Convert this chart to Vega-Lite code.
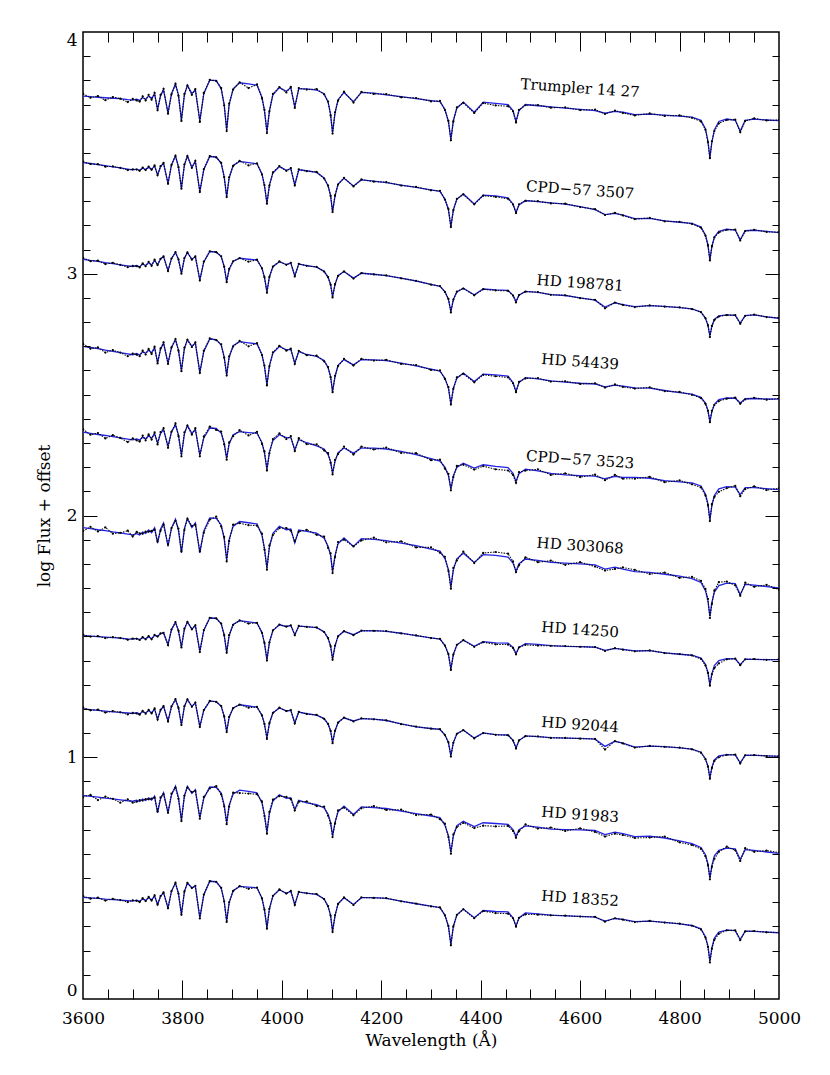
{
"$schema":"https://vega.github.io/schema/vega-lite/v6.json",
"width":696,"height":967,
"autosize":{"type":"none"},
"padding":{"left":83,"top":32,"right":51,"bottom":76},
"background":"#ffffff",
"config":{"view":{"stroke":"#000000","strokeWidth":1.5},"font":"DejaVu Serif"},
"datasets":{
"labels":[
{"name":"Trumpler 14 27","w":4600,"y":3.768},
{"name":"CPD−57 3507","w":4600,"y":3.347},
{"name":"HD 198781","w":4600,"y":2.962},
{"name":"HD 54439","w":4600,"y":2.636},
{"name":"CPD−57 3523","w":4600,"y":2.231},
{"name":"HD 303068","w":4600,"y":1.875},
{"name":"HD 14250","w":4600,"y":1.528},
{"name":"HD 92044","w":4600,"y":1.135},
{"name":"HD 91983","w":4600,"y":0.763},
{"name":"HD 18352","w":4600,"y":0.416}
],
"spec":[
{"s":0,"w":3600,"m":3.735,"o":3.745},{"s":0,"w":3615,"m":3.733,"o":3.728},{"s":0,"w":3630,"m":3.73,"o":3.735},{"s":0,"w":3645,"m":3.728,"o":3.718},{"s":0,"w":3660,"m":3.726,"o":3.731},{"s":0,"w":3675,"m":3.724,"o":3.724},{"s":0,"w":3690,"m":3.72,"o":3.71},{"s":0,"w":3700,"m":3.718,"o":3.723},{"s":0,"w":3708,"m":3.722,"o":3.717},{"s":0,"w":3714,"m":3.717,"o":3.712},{"s":0,"w":3720,"m":3.729,"o":3.734},{"s":0,"w":3726,"m":3.722,"o":3.717},{"s":0,"w":3732,"m":3.735,"o":3.74},{"s":0,"w":3738,"m":3.725,"o":3.72},{"s":0,"w":3744,"m":3.743,"o":3.748},{"s":0,"w":3750,"m":3.68,"o":3.676},{"s":0,"w":3756,"m":3.735,"o":3.74},{"s":0,"w":3762,"m":3.76,"o":3.765},{"s":0,"w":3771,"m":3.665,"o":3.662},{"s":0,"w":3778,"m":3.745,"o":3.742},{"s":0,"w":3786,"m":3.784,"o":3.786},{"s":0,"w":3792,"m":3.74,"o":3.736},{"s":0,"w":3798,"m":3.636,"o":3.632},{"s":0,"w":3804,"m":3.74,"o":3.744},{"s":0,"w":3810,"m":3.78,"o":3.778},{"s":0,"w":3819,"m":3.745,"o":3.74},{"s":0,"w":3826,"m":3.76,"o":3.764},{"s":0,"w":3835,"m":3.633,"o":3.628},{"s":0,"w":3843,"m":3.745,"o":3.748},{"s":0,"w":3855,"m":3.8,"o":3.802},{"s":0,"w":3868,"m":3.8,"o":3.797},{"s":0,"w":3878,"m":3.765,"o":3.768},{"s":0,"w":3884,"m":3.7,"o":3.697},{"s":0,"w":3889,"m":3.595,"o":3.59},{"s":0,"w":3894,"m":3.7,"o":3.704},{"s":0,"w":3902,"m":3.765,"o":3.762},{"s":0,"w":3915,"m":3.79,"o":3.792},{"s":0,"w":3933,"m":3.785,"o":3.768},{"s":0,"w":3950,"m":3.78,"o":3.783},{"s":0,"w":3960,"m":3.73,"o":3.726},{"s":0,"w":3965,"m":3.675,"o":3.678},{"s":0,"w":3970,"m":3.588,"o":3.582},{"s":0,"w":3975,"m":3.675,"o":3.672},{"s":0,"w":3982,"m":3.74,"o":3.744},{"s":0,"w":3995,"m":3.77,"o":3.772},{"s":0,"w":4009,"m":3.755,"o":3.75},{"s":0,"w":4018,"m":3.77,"o":3.773},{"s":0,"w":4026,"m":3.69,"o":3.686},{"s":0,"w":4034,"m":3.765,"o":3.768},{"s":0,"w":4050,"m":3.765,"o":3.762},{"s":0,"w":4070,"m":3.76,"o":3.764},{"s":0,"w":4085,"m":3.745,"o":3.742},{"s":0,"w":4093,"m":3.71,"o":3.712},{"s":0,"w":4098,"m":3.66,"o":3.655},{"s":0,"w":4102,"m":3.584,"o":3.58},{"s":0,"w":4107,"m":3.665,"o":3.668},{"s":0,"w":4113,"m":3.72,"o":3.716},{"s":0,"w":4125,"m":3.75,"o":3.753},{"s":0,"w":4144,"m":3.712,"o":3.708},{"s":0,"w":4160,"m":3.75,"o":3.752},{"s":0,"w":4185,"m":3.747,"o":3.744},{"s":0,"w":4210,"m":3.74,"o":3.743},{"s":0,"w":4240,"m":3.733,"o":3.73},{"s":0,"w":4270,"m":3.724,"o":3.727},{"s":0,"w":4300,"m":3.716,"o":3.713},{"s":0,"w":4318,"m":3.712,"o":3.715},{"s":0,"w":4328,"m":3.68,"o":3.677},{"s":0,"w":4335,"m":3.63,"o":3.632},{"s":0,"w":4340,"m":3.556,"o":3.552},{"s":0,"w":4345,"m":3.635,"o":3.63},{"s":0,"w":4352,"m":3.685,"o":3.688},{"s":0,"w":4365,"m":3.71,"o":3.707},{"s":0,"w":4387,"m":3.668,"o":3.665},{"s":0,"w":4405,"m":3.71,"o":3.706},{"s":0,"w":4430,"m":3.705,"o":3.696},{"s":0,"w":4455,"m":3.7,"o":3.693},{"s":0,"w":4465,"m":3.675,"o":3.672},{"s":0,"w":4471,"m":3.63,"o":3.626},{"s":0,"w":4477,"m":3.675,"o":3.678},{"s":0,"w":4490,"m":3.7,"o":3.697},{"s":0,"w":4515,"m":3.695,"o":3.698},{"s":0,"w":4541,"m":3.69,"o":3.687},{"s":0,"w":4570,"m":3.685,"o":3.688},{"s":0,"w":4600,"m":3.68,"o":3.677},{"s":0,"w":4630,"m":3.675,"o":3.679},{"s":0,"w":4650,"m":3.664,"o":3.661},{"s":0,"w":4670,"m":3.672,"o":3.675},{"s":0,"w":4686,"m":3.668,"o":3.665},{"s":0,"w":4710,"m":3.658,"o":3.655},{"s":0,"w":4740,"m":3.66,"o":3.663},{"s":0,"w":4770,"m":3.656,"o":3.653},{"s":0,"w":4800,"m":3.652,"o":3.655},{"s":0,"w":4825,"m":3.648,"o":3.645},{"s":0,"w":4843,"m":3.635,"o":3.63},{"s":0,"w":4852,"m":3.6,"o":3.596},{"s":0,"w":4857,"m":3.55,"o":3.545},{"s":0,"w":4861,"m":3.48,"o":3.478},{"s":0,"w":4865,"m":3.545,"o":3.548},{"s":0,"w":4870,"m":3.595,"o":3.59},{"s":0,"w":4879,"m":3.63,"o":3.622},{"s":0,"w":4895,"m":3.64,"o":3.636},{"s":0,"w":4912,"m":3.635,"o":3.638},{"s":0,"w":4922,"m":3.59,"o":3.585},{"s":0,"w":4932,"m":3.635,"o":3.632},{"s":0,"w":4950,"m":3.64,"o":3.643},{"s":0,"w":4975,"m":3.636,"o":3.634},{"s":0,"w":5000,"m":3.633,"o":3.636},
{"s":1,"w":3600,"m":3.46,"o":3.464},{"s":1,"w":3615,"m":3.456,"o":3.454},{"s":1,"w":3630,"m":3.451,"o":3.453},{"s":1,"w":3645,"m":3.447,"o":3.443},{"s":1,"w":3660,"m":3.442,"o":3.444},{"s":1,"w":3675,"m":3.438,"o":3.438},{"s":1,"w":3690,"m":3.433,"o":3.429},{"s":1,"w":3700,"m":3.43,"o":3.432},{"s":1,"w":3708,"m":3.433,"o":3.431},{"s":1,"w":3714,"m":3.428,"o":3.426},{"s":1,"w":3720,"m":3.437,"o":3.439},{"s":1,"w":3726,"m":3.431,"o":3.429},{"s":1,"w":3732,"m":3.441,"o":3.443},{"s":1,"w":3738,"m":3.432,"o":3.43},{"s":1,"w":3744,"m":3.446,"o":3.448},{"s":1,"w":3750,"m":3.409,"o":3.407},{"s":1,"w":3756,"m":3.443,"o":3.445},{"s":1,"w":3762,"m":3.457,"o":3.459},{"s":1,"w":3771,"m":3.374,"o":3.372},{"s":1,"w":3778,"m":3.45,"o":3.45},{"s":1,"w":3786,"m":3.487,"o":3.489},{"s":1,"w":3792,"m":3.443,"o":3.441},{"s":1,"w":3798,"m":3.354,"o":3.352},{"s":1,"w":3804,"m":3.45,"o":3.452},{"s":1,"w":3810,"m":3.487,"o":3.487},{"s":1,"w":3819,"m":3.44,"o":3.438},{"s":1,"w":3826,"m":3.465,"o":3.467},{"s":1,"w":3835,"m":3.34,"o":3.338},{"s":1,"w":3843,"m":3.431,"o":3.433},{"s":1,"w":3855,"m":3.485,"o":3.487},{"s":1,"w":3868,"m":3.483,"o":3.481},{"s":1,"w":3878,"m":3.457,"o":3.459},{"s":1,"w":3884,"m":3.402,"o":3.4},{"s":1,"w":3889,"m":3.319,"o":3.317},{"s":1,"w":3894,"m":3.397,"o":3.399},{"s":1,"w":3902,"m":3.448,"o":3.446},{"s":1,"w":3915,"m":3.465,"o":3.467},{"s":1,"w":3933,"m":3.46,"o":3.448},{"s":1,"w":3950,"m":3.455,"o":3.457},{"s":1,"w":3960,"m":3.413,"o":3.411},{"s":1,"w":3965,"m":3.365,"o":3.367},{"s":1,"w":3970,"m":3.292,"o":3.29},{"s":1,"w":3975,"m":3.367,"o":3.365},{"s":1,"w":3982,"m":3.417,"o":3.419},{"s":1,"w":3995,"m":3.443,"o":3.445},{"s":1,"w":4009,"m":3.428,"o":3.426},{"s":1,"w":4018,"m":3.435,"o":3.437},{"s":1,"w":4026,"m":3.367,"o":3.365},{"s":1,"w":4034,"m":3.43,"o":3.432},{"s":1,"w":4050,"m":3.426,"o":3.424},{"s":1,"w":4070,"m":3.419,"o":3.421},{"s":1,"w":4085,"m":3.396,"o":3.394},{"s":1,"w":4093,"m":3.363,"o":3.365},{"s":1,"w":4098,"m":3.324,"o":3.322},{"s":1,"w":4102,"m":3.257,"o":3.255},{"s":1,"w":4107,"m":3.322,"o":3.324},{"s":1,"w":4113,"m":3.371,"o":3.369},{"s":1,"w":4125,"m":3.395,"o":3.397},{"s":1,"w":4144,"m":3.363,"o":3.361},{"s":1,"w":4160,"m":3.388,"o":3.39},{"s":1,"w":4185,"m":3.383,"o":3.381},{"s":1,"w":4210,"m":3.377,"o":3.379},{"s":1,"w":4240,"m":3.367,"o":3.365},{"s":1,"w":4270,"m":3.357,"o":3.359},{"s":1,"w":4300,"m":3.347,"o":3.345},{"s":1,"w":4318,"m":3.341,"o":3.343},{"s":1,"w":4328,"m":3.309,"o":3.307},{"s":1,"w":4335,"m":3.266,"o":3.268},{"s":1,"w":4340,"m":3.195,"o":3.193},{"s":1,"w":4345,"m":3.265,"o":3.263},{"s":1,"w":4352,"m":3.308,"o":3.31},{"s":1,"w":4365,"m":3.33,"o":3.328},{"s":1,"w":4387,"m":3.289,"o":3.287},{"s":1,"w":4405,"m":3.325,"o":3.323},{"s":1,"w":4430,"m":3.322,"o":3.318},{"s":1,"w":4455,"m":3.314,"o":3.31},{"s":1,"w":4465,"m":3.288,"o":3.286},{"s":1,"w":4471,"m":3.253,"o":3.251},{"s":1,"w":4477,"m":3.285,"o":3.287},{"s":1,"w":4490,"m":3.303,"o":3.301},{"s":1,"w":4515,"m":3.298,"o":3.3},{"s":1,"w":4541,"m":3.293,"o":3.291},{"s":1,"w":4570,"m":3.288,"o":3.29},{"s":1,"w":4600,"m":3.278,"o":3.276},{"s":1,"w":4630,"m":3.265,"o":3.267},{"s":1,"w":4650,"m":3.245,"o":3.243},{"s":1,"w":4670,"m":3.25,"o":3.252},{"s":1,"w":4686,"m":3.243,"o":3.241},{"s":1,"w":4710,"m":3.228,"o":3.226},{"s":1,"w":4740,"m":3.229,"o":3.231},{"s":1,"w":4770,"m":3.219,"o":3.217},{"s":1,"w":4800,"m":3.213,"o":3.215},{"s":1,"w":4825,"m":3.208,"o":3.206},{"s":1,"w":4843,"m":3.193,"o":3.191},{"s":1,"w":4852,"m":3.16,"o":3.158},{"s":1,"w":4857,"m":3.12,"o":3.118},{"s":1,"w":4861,"m":3.057,"o":3.055},{"s":1,"w":4865,"m":3.112,"o":3.114},{"s":1,"w":4870,"m":3.152,"o":3.15},{"s":1,"w":4879,"m":3.175,"o":3.171},{"s":1,"w":4895,"m":3.184,"o":3.182},{"s":1,"w":4912,"m":3.181,"o":3.183},{"s":1,"w":4922,"m":3.14,"o":3.138},{"s":1,"w":4932,"m":3.178,"o":3.176},{"s":1,"w":4950,"m":3.18,"o":3.182},{"s":1,"w":4975,"m":3.175,"o":3.173},{"s":1,"w":5000,"m":3.17,"o":3.172},
{"s":2,"w":3600,"m":3.06,"o":3.066},{"s":2,"w":3615,"m":3.055,"o":3.052},{"s":2,"w":3630,"m":3.051,"o":3.054},{"s":2,"w":3645,"m":3.046,"o":3.04},{"s":2,"w":3660,"m":3.042,"o":3.045},{"s":2,"w":3675,"m":3.037,"o":3.037},{"s":2,"w":3690,"m":3.033,"o":3.027},{"s":2,"w":3700,"m":3.03,"o":3.033},{"s":2,"w":3708,"m":3.034,"o":3.031},{"s":2,"w":3714,"m":3.029,"o":3.026},{"s":2,"w":3720,"m":3.04,"o":3.043},{"s":2,"w":3726,"m":3.034,"o":3.031},{"s":2,"w":3732,"m":3.046,"o":3.049},{"s":2,"w":3738,"m":3.036,"o":3.033},{"s":2,"w":3744,"m":3.055,"o":3.058},{"s":2,"w":3750,"m":3.037,"o":3.036},{"s":2,"w":3756,"m":3.061,"o":3.062},{"s":2,"w":3762,"m":3.071,"o":3.072},{"s":2,"w":3771,"m":3.013,"o":3.011},{"s":2,"w":3778,"m":3.063,"o":3.063},{"s":2,"w":3786,"m":3.088,"o":3.089},{"s":2,"w":3792,"m":3.06,"o":3.059},{"s":2,"w":3798,"m":3.002,"o":3.0},{"s":2,"w":3804,"m":3.064,"o":3.065},{"s":2,"w":3810,"m":3.088,"o":3.088},{"s":2,"w":3819,"m":3.06,"o":3.058},{"s":2,"w":3826,"m":3.071,"o":3.072},{"s":2,"w":3835,"m":2.975,"o":2.972},{"s":2,"w":3843,"m":3.049,"o":3.05},{"s":2,"w":3855,"m":3.092,"o":3.093},{"s":2,"w":3868,"m":3.09,"o":3.089},{"s":2,"w":3878,"m":3.071,"o":3.072},{"s":2,"w":3884,"m":3.03,"o":3.029},{"s":2,"w":3889,"m":2.968,"o":2.965},{"s":2,"w":3894,"m":3.019,"o":3.02},{"s":2,"w":3902,"m":3.052,"o":3.051},{"s":2,"w":3915,"m":3.064,"o":3.065},{"s":2,"w":3933,"m":3.06,"o":3.05},{"s":2,"w":3950,"m":3.057,"o":3.058},{"s":2,"w":3960,"m":3.023,"o":3.022},{"s":2,"w":3965,"m":2.985,"o":2.986},{"s":2,"w":3970,"m":2.926,"o":2.921},{"s":2,"w":3975,"m":2.988,"o":2.987},{"s":2,"w":3982,"m":3.029,"o":3.03},{"s":2,"w":3995,"m":3.05,"o":3.051},{"s":2,"w":4009,"m":3.038,"o":3.037},{"s":2,"w":4018,"m":3.044,"o":3.045},{"s":2,"w":4026,"m":2.991,"o":2.989},{"s":2,"w":4034,"m":3.04,"o":3.041},{"s":2,"w":4050,"m":3.034,"o":3.033},{"s":2,"w":4070,"m":3.027,"o":3.028},{"s":2,"w":4085,"m":3.01,"o":3.009},{"s":2,"w":4093,"m":2.985,"o":2.986},{"s":2,"w":4098,"m":2.956,"o":2.955},{"s":2,"w":4102,"m":2.906,"o":2.902},{"s":2,"w":4107,"m":2.956,"o":2.957},{"s":2,"w":4113,"m":2.992,"o":2.991},{"s":2,"w":4125,"m":3.009,"o":3.01},{"s":2,"w":4144,"m":2.982,"o":2.98},{"s":2,"w":4160,"m":3.002,"o":3.003},{"s":2,"w":4185,"m":2.998,"o":2.997},{"s":2,"w":4210,"m":2.992,"o":2.993},{"s":2,"w":4240,"m":2.982,"o":2.981},{"s":2,"w":4270,"m":2.97,"o":2.971},{"s":2,"w":4300,"m":2.956,"o":2.955},{"s":2,"w":4318,"m":2.948,"o":2.949},{"s":2,"w":4328,"m":2.926,"o":2.925},{"s":2,"w":4335,"m":2.895,"o":2.896},{"s":2,"w":4340,"m":2.844,"o":2.84},{"s":2,"w":4345,"m":2.894,"o":2.893},{"s":2,"w":4352,"m":2.925,"o":2.926},{"s":2,"w":4365,"m":2.94,"o":2.939},{"s":2,"w":4387,"m":2.913,"o":2.911},{"s":2,"w":4405,"m":2.937,"o":2.936},{"s":2,"w":4430,"m":2.933,"o":2.931},{"s":2,"w":4455,"m":2.931,"o":2.929},{"s":2,"w":4465,"m":2.911,"o":2.91},{"s":2,"w":4471,"m":2.885,"o":2.882},{"s":2,"w":4477,"m":2.911,"o":2.912},{"s":2,"w":4490,"m":2.927,"o":2.926},{"s":2,"w":4515,"m":2.923,"o":2.924},{"s":2,"w":4541,"m":2.914,"o":2.913},{"s":2,"w":4570,"m":2.91,"o":2.911},{"s":2,"w":4600,"m":2.9,"o":2.899},{"s":2,"w":4630,"m":2.891,"o":2.892},{"s":2,"w":4650,"m":2.862,"o":2.857},{"s":2,"w":4670,"m":2.88,"o":2.881},{"s":2,"w":4686,"m":2.872,"o":2.871},{"s":2,"w":4710,"m":2.864,"o":2.862},{"s":2,"w":4740,"m":2.868,"o":2.869},{"s":2,"w":4770,"m":2.865,"o":2.864},{"s":2,"w":4800,"m":2.86,"o":2.861},{"s":2,"w":4825,"m":2.855,"o":2.854},{"s":2,"w":4843,"m":2.842,"o":2.841},{"s":2,"w":4852,"m":2.817,"o":2.816},{"s":2,"w":4857,"m":2.788,"o":2.787},{"s":2,"w":4861,"m":2.743,"o":2.738},{"s":2,"w":4865,"m":2.783,"o":2.784},{"s":2,"w":4870,"m":2.811,"o":2.809},{"s":2,"w":4879,"m":2.826,"o":2.823},{"s":2,"w":4895,"m":2.83,"o":2.829},{"s":2,"w":4912,"m":2.828,"o":2.829},{"s":2,"w":4922,"m":2.796,"o":2.793},{"s":2,"w":4932,"m":2.827,"o":2.826},{"s":2,"w":4950,"m":2.83,"o":2.831},{"s":2,"w":4975,"m":2.822,"o":2.821},{"s":2,"w":5000,"m":2.816,"o":2.817},
{"s":3,"w":3600,"m":2.7,"o":2.71},{"s":3,"w":3615,"m":2.695,"o":2.69},{"s":3,"w":3630,"m":2.69,"o":2.695},{"s":3,"w":3645,"m":2.684,"o":2.674},{"s":3,"w":3660,"m":2.679,"o":2.684},{"s":3,"w":3675,"m":2.674,"o":2.674},{"s":3,"w":3690,"m":2.669,"o":2.659},{"s":3,"w":3700,"m":2.665,"o":2.67},{"s":3,"w":3708,"m":2.67,"o":2.665},{"s":3,"w":3714,"m":2.664,"o":2.659},{"s":3,"w":3720,"m":2.677,"o":2.682},{"s":3,"w":3726,"m":2.671,"o":2.666},{"s":3,"w":3732,"m":2.684,"o":2.689},{"s":3,"w":3738,"m":2.673,"o":2.668},{"s":3,"w":3744,"m":2.694,"o":2.699},{"s":3,"w":3750,"m":2.632,"o":2.629},{"s":3,"w":3756,"m":2.688,"o":2.691},{"s":3,"w":3762,"m":2.713,"o":2.716},{"s":3,"w":3771,"m":2.63,"o":2.627},{"s":3,"w":3778,"m":2.695,"o":2.695},{"s":3,"w":3786,"m":2.727,"o":2.73},{"s":3,"w":3792,"m":2.685,"o":2.682},{"s":3,"w":3798,"m":2.6,"o":2.597},{"s":3,"w":3804,"m":2.691,"o":2.694},{"s":3,"w":3810,"m":2.727,"o":2.727},{"s":3,"w":3819,"m":2.7,"o":2.697},{"s":3,"w":3826,"m":2.713,"o":2.716},{"s":3,"w":3835,"m":2.592,"o":2.589},{"s":3,"w":3843,"m":2.679,"o":2.682},{"s":3,"w":3855,"m":2.73,"o":2.733},{"s":3,"w":3868,"m":2.728,"o":2.725},{"s":3,"w":3878,"m":2.705,"o":2.708},{"s":3,"w":3884,"m":2.656,"o":2.653},{"s":3,"w":3889,"m":2.582,"o":2.579},{"s":3,"w":3894,"m":2.655,"o":2.658},{"s":3,"w":3902,"m":2.702,"o":2.699},{"s":3,"w":3915,"m":2.719,"o":2.722},{"s":3,"w":3933,"m":2.714,"o":2.7},{"s":3,"w":3950,"m":2.71,"o":2.713},{"s":3,"w":3960,"m":2.666,"o":2.663},{"s":3,"w":3965,"m":2.617,"o":2.62},{"s":3,"w":3970,"m":2.541,"o":2.538},{"s":3,"w":3975,"m":2.62,"o":2.617},{"s":3,"w":3982,"m":2.672,"o":2.675},{"s":3,"w":3995,"m":2.699,"o":2.702},{"s":3,"w":4009,"m":2.685,"o":2.682},{"s":3,"w":4018,"m":2.687,"o":2.69},{"s":3,"w":4026,"m":2.63,"o":2.627},{"s":3,"w":4034,"m":2.678,"o":2.681},{"s":3,"w":4050,"m":2.666,"o":2.663},{"s":3,"w":4070,"m":2.658,"o":2.661},{"s":3,"w":4085,"m":2.641,"o":2.638},{"s":3,"w":4093,"m":2.611,"o":2.614},{"s":3,"w":4098,"m":2.575,"o":2.572},{"s":3,"w":4102,"m":2.513,"o":2.51},{"s":3,"w":4107,"m":2.575,"o":2.578},{"s":3,"w":4113,"m":2.621,"o":2.618},{"s":3,"w":4125,"m":2.645,"o":2.648},{"s":3,"w":4144,"m":2.623,"o":2.62},{"s":3,"w":4160,"m":2.645,"o":2.648},{"s":3,"w":4185,"m":2.644,"o":2.641},{"s":3,"w":4210,"m":2.641,"o":2.644},{"s":3,"w":4240,"m":2.63,"o":2.627},{"s":3,"w":4270,"m":2.619,"o":2.622},{"s":3,"w":4300,"m":2.605,"o":2.602},{"s":3,"w":4318,"m":2.597,"o":2.6},{"s":3,"w":4328,"m":2.568,"o":2.565},{"s":3,"w":4335,"m":2.528,"o":2.531},{"s":3,"w":4340,"m":2.462,"o":2.459},{"s":3,"w":4345,"m":2.527,"o":2.524},{"s":3,"w":4352,"m":2.568,"o":2.571},{"s":3,"w":4365,"m":2.589,"o":2.586},{"s":3,"w":4387,"m":2.554,"o":2.551},{"s":3,"w":4405,"m":2.585,"o":2.582},{"s":3,"w":4430,"m":2.582,"o":2.576},{"s":3,"w":4455,"m":2.577,"o":2.571},{"s":3,"w":4465,"m":2.55,"o":2.547},{"s":3,"w":4471,"m":2.513,"o":2.51},{"s":3,"w":4477,"m":2.55,"o":2.553},{"s":3,"w":4490,"m":2.57,"o":2.567},{"s":3,"w":4515,"m":2.565,"o":2.568},{"s":3,"w":4541,"m":2.557,"o":2.554},{"s":3,"w":4570,"m":2.552,"o":2.555},{"s":3,"w":4600,"m":2.547,"o":2.544},{"s":3,"w":4630,"m":2.544,"o":2.547},{"s":3,"w":4650,"m":2.532,"o":2.529},{"s":3,"w":4670,"m":2.539,"o":2.542},{"s":3,"w":4686,"m":2.535,"o":2.532},{"s":3,"w":4710,"m":2.528,"o":2.525},{"s":3,"w":4740,"m":2.527,"o":2.53},{"s":3,"w":4770,"m":2.517,"o":2.514},{"s":3,"w":4800,"m":2.508,"o":2.511},{"s":3,"w":4825,"m":2.502,"o":2.499},{"s":3,"w":4843,"m":2.489,"o":2.486},{"s":3,"w":4852,"m":2.465,"o":2.462},{"s":3,"w":4857,"m":2.436,"o":2.433},{"s":3,"w":4861,"m":2.389,"o":2.386},{"s":3,"w":4865,"m":2.43,"o":2.433},{"s":3,"w":4870,"m":2.46,"o":2.457},{"s":3,"w":4879,"m":2.479,"o":2.473},{"s":3,"w":4895,"m":2.486,"o":2.483},{"s":3,"w":4912,"m":2.485,"o":2.488},{"s":3,"w":4922,"m":2.465,"o":2.462},{"s":3,"w":4932,"m":2.483,"o":2.48},{"s":3,"w":4950,"m":2.484,"o":2.487},{"s":3,"w":4975,"m":2.482,"o":2.479},{"s":3,"w":5000,"m":2.481,"o":2.484},
{"s":4,"w":3600,"m":2.345,"o":2.357},{"s":4,"w":3615,"m":2.34,"o":2.334},{"s":4,"w":3630,"m":2.335,"o":2.341},{"s":4,"w":3645,"m":2.331,"o":2.319},{"s":4,"w":3660,"m":2.326,"o":2.332},{"s":4,"w":3675,"m":2.321,"o":2.321},{"s":4,"w":3690,"m":2.316,"o":2.304},{"s":4,"w":3700,"m":2.313,"o":2.319},{"s":4,"w":3708,"m":2.317,"o":2.311},{"s":4,"w":3714,"m":2.312,"o":2.306},{"s":4,"w":3720,"m":2.324,"o":2.33},{"s":4,"w":3726,"m":2.317,"o":2.311},{"s":4,"w":3732,"m":2.33,"o":2.336},{"s":4,"w":3738,"m":2.32,"o":2.314},{"s":4,"w":3744,"m":2.338,"o":2.344},{"s":4,"w":3750,"m":2.3,"o":2.294},{"s":4,"w":3756,"m":2.339,"o":2.345},{"s":4,"w":3762,"m":2.355,"o":2.361},{"s":4,"w":3771,"m":2.286,"o":2.28},{"s":4,"w":3778,"m":2.346,"o":2.346},{"s":4,"w":3786,"m":2.375,"o":2.381},{"s":4,"w":3792,"m":2.334,"o":2.328},{"s":4,"w":3798,"m":2.251,"o":2.245},{"s":4,"w":3804,"m":2.338,"o":2.344},{"s":4,"w":3810,"m":2.372,"o":2.372},{"s":4,"w":3819,"m":2.34,"o":2.334},{"s":4,"w":3826,"m":2.355,"o":2.361},{"s":4,"w":3835,"m":2.251,"o":2.245},{"s":4,"w":3843,"m":2.321,"o":2.327},{"s":4,"w":3855,"m":2.362,"o":2.368},{"s":4,"w":3868,"m":2.36,"o":2.354},{"s":4,"w":3878,"m":2.341,"o":2.347},{"s":4,"w":3884,"m":2.3,"o":2.294},{"s":4,"w":3889,"m":2.237,"o":2.231},{"s":4,"w":3894,"m":2.296,"o":2.302},{"s":4,"w":3902,"m":2.334,"o":2.328},{"s":4,"w":3915,"m":2.347,"o":2.353},{"s":4,"w":3933,"m":2.343,"o":2.331},{"s":4,"w":3950,"m":2.34,"o":2.346},{"s":4,"w":3960,"m":2.302,"o":2.296},{"s":4,"w":3965,"m":2.259,"o":2.265},{"s":4,"w":3970,"m":2.192,"o":2.186},{"s":4,"w":3975,"m":2.263,"o":2.257},{"s":4,"w":3982,"m":2.31,"o":2.316},{"s":4,"w":3995,"m":2.334,"o":2.34},{"s":4,"w":4009,"m":2.322,"o":2.316},{"s":4,"w":4018,"m":2.322,"o":2.328},{"s":4,"w":4026,"m":2.272,"o":2.266},{"s":4,"w":4034,"m":2.314,"o":2.32},{"s":4,"w":4050,"m":2.301,"o":2.295},{"s":4,"w":4070,"m":2.288,"o":2.294},{"s":4,"w":4085,"m":2.275,"o":2.269},{"s":4,"w":4093,"m":2.252,"o":2.258},{"s":4,"w":4098,"m":2.224,"o":2.218},{"s":4,"w":4102,"m":2.176,"o":2.17},{"s":4,"w":4107,"m":2.224,"o":2.23},{"s":4,"w":4113,"m":2.26,"o":2.254},{"s":4,"w":4125,"m":2.279,"o":2.285},{"s":4,"w":4144,"m":2.258,"o":2.252},{"s":4,"w":4160,"m":2.279,"o":2.285},{"s":4,"w":4185,"m":2.279,"o":2.273},{"s":4,"w":4210,"m":2.275,"o":2.281},{"s":4,"w":4240,"m":2.265,"o":2.259},{"s":4,"w":4270,"m":2.252,"o":2.258},{"s":4,"w":4300,"m":2.235,"o":2.229},{"s":4,"w":4318,"m":2.225,"o":2.231},{"s":4,"w":4328,"m":2.2,"o":2.194},{"s":4,"w":4335,"m":2.166,"o":2.172},{"s":4,"w":4340,"m":2.11,"o":2.104},{"s":4,"w":4345,"m":2.165,"o":2.159},{"s":4,"w":4352,"m":2.199,"o":2.205},{"s":4,"w":4365,"m":2.216,"o":2.21},{"s":4,"w":4387,"m":2.196,"o":2.19},{"s":4,"w":4405,"m":2.21,"o":2.204},{"s":4,"w":4430,"m":2.203,"o":2.191},{"s":4,"w":4455,"m":2.198,"o":2.186},{"s":4,"w":4465,"m":2.174,"o":2.168},{"s":4,"w":4471,"m":2.141,"o":2.135},{"s":4,"w":4477,"m":2.173,"o":2.179},{"s":4,"w":4490,"m":2.192,"o":2.186},{"s":4,"w":4515,"m":2.185,"o":2.191},{"s":4,"w":4541,"m":2.174,"o":2.168},{"s":4,"w":4570,"m":2.168,"o":2.174},{"s":4,"w":4600,"m":2.165,"o":2.159},{"s":4,"w":4630,"m":2.163,"o":2.169},{"s":4,"w":4650,"m":2.152,"o":2.146},{"s":4,"w":4670,"m":2.162,"o":2.168},{"s":4,"w":4686,"m":2.158,"o":2.152},{"s":4,"w":4710,"m":2.158,"o":2.152},{"s":4,"w":4740,"m":2.154,"o":2.16},{"s":4,"w":4770,"m":2.144,"o":2.138},{"s":4,"w":4800,"m":2.139,"o":2.145},{"s":4,"w":4825,"m":2.135,"o":2.129},{"s":4,"w":4843,"m":2.122,"o":2.116},{"s":4,"w":4852,"m":2.089,"o":2.083},{"s":4,"w":4857,"m":2.049,"o":2.043},{"s":4,"w":4861,"m":1.983,"o":1.977},{"s":4,"w":4865,"m":2.041,"o":2.047},{"s":4,"w":4870,"m":2.083,"o":2.077},{"s":4,"w":4879,"m":2.11,"o":2.098},{"s":4,"w":4895,"m":2.119,"o":2.113},{"s":4,"w":4912,"m":2.117,"o":2.123},{"s":4,"w":4922,"m":2.086,"o":2.08},{"s":4,"w":4932,"m":2.115,"o":2.109},{"s":4,"w":4950,"m":2.115,"o":2.121},{"s":4,"w":4975,"m":2.111,"o":2.105},{"s":4,"w":5000,"m":2.107,"o":2.113},
{"s":5,"w":3600,"m":1.95,"o":1.936},{"s":5,"w":3615,"m":1.946,"o":1.953},{"s":5,"w":3630,"m":1.941,"o":1.934},{"s":5,"w":3645,"m":1.937,"o":1.951},{"s":5,"w":3660,"m":1.932,"o":1.925},{"s":5,"w":3675,"m":1.928,"o":1.928},{"s":5,"w":3690,"m":1.923,"o":1.937},{"s":5,"w":3700,"m":1.92,"o":1.913},{"s":5,"w":3708,"m":1.925,"o":1.932},{"s":5,"w":3714,"m":1.919,"o":1.926},{"s":5,"w":3720,"m":1.932,"o":1.925},{"s":5,"w":3726,"m":1.926,"o":1.933},{"s":5,"w":3732,"m":1.94,"o":1.933},{"s":5,"w":3738,"m":1.929,"o":1.936},{"s":5,"w":3744,"m":1.949,"o":1.942},{"s":5,"w":3750,"m":1.886,"o":1.893},{"s":5,"w":3756,"m":1.944,"o":1.937},{"s":5,"w":3762,"m":1.969,"o":1.962},{"s":5,"w":3771,"m":1.872,"o":1.879},{"s":5,"w":3778,"m":1.948,"o":1.948},{"s":5,"w":3786,"m":1.985,"o":1.978},{"s":5,"w":3792,"m":1.939,"o":1.946},{"s":5,"w":3798,"m":1.845,"o":1.852},{"s":5,"w":3804,"m":1.947,"o":1.94},{"s":5,"w":3810,"m":1.987,"o":1.987},{"s":5,"w":3819,"m":1.95,"o":1.957},{"s":5,"w":3826,"m":1.969,"o":1.962},{"s":5,"w":3835,"m":1.845,"o":1.852},{"s":5,"w":3843,"m":1.936,"o":1.929},{"s":5,"w":3855,"m":1.99,"o":1.983},{"s":5,"w":3868,"m":1.988,"o":1.995},{"s":5,"w":3878,"m":1.961,"o":1.954},{"s":5,"w":3884,"m":1.904,"o":1.911},{"s":5,"w":3889,"m":1.817,"o":1.81},{"s":5,"w":3894,"m":1.901,"o":1.894},{"s":5,"w":3902,"m":1.955,"o":1.962},{"s":5,"w":3915,"m":1.975,"o":1.968},{"s":5,"w":3933,"m":1.97,"o":1.96},{"s":5,"w":3950,"m":1.965,"o":1.958},{"s":5,"w":3960,"m":1.918,"o":1.925},{"s":5,"w":3965,"m":1.865,"o":1.858},{"s":5,"w":3970,"m":1.783,"o":1.776},{"s":5,"w":3975,"m":1.869,"o":1.876},{"s":5,"w":3982,"m":1.926,"o":1.919},{"s":5,"w":3995,"m":1.955,"o":1.948},{"s":5,"w":4009,"m":1.941,"o":1.948},{"s":5,"w":4018,"m":1.944,"o":1.937},{"s":5,"w":4026,"m":1.886,"o":1.893},{"s":5,"w":4034,"m":1.94,"o":1.933},{"s":5,"w":4050,"m":1.934,"o":1.941},{"s":5,"w":4070,"m":1.927,"o":1.92},{"s":5,"w":4085,"m":1.906,"o":1.913},{"s":5,"w":4093,"m":1.873,"o":1.866},{"s":5,"w":4098,"m":1.836,"o":1.843},{"s":5,"w":4102,"m":1.769,"o":1.762},{"s":5,"w":4107,"m":1.835,"o":1.828},{"s":5,"w":4113,"m":1.883,"o":1.89},{"s":5,"w":4125,"m":1.907,"o":1.9},{"s":5,"w":4144,"m":1.872,"o":1.872},{"s":5,"w":4160,"m":1.904,"o":1.897},{"s":5,"w":4185,"m":1.901,"o":1.908},{"s":5,"w":4210,"m":1.896,"o":1.889},{"s":5,"w":4240,"m":1.886,"o":1.893},{"s":5,"w":4270,"m":1.875,"o":1.868},{"s":5,"w":4300,"m":1.861,"o":1.868},{"s":5,"w":4318,"m":1.853,"o":1.846},{"s":5,"w":4328,"m":1.822,"o":1.829},{"s":5,"w":4335,"m":1.777,"o":1.77},{"s":5,"w":4340,"m":1.704,"o":1.697},{"s":5,"w":4345,"m":1.776,"o":1.783},{"s":5,"w":4352,"m":1.821,"o":1.814},{"s":5,"w":4365,"m":1.844,"o":1.851},{"s":5,"w":4387,"m":1.806,"o":1.803},{"s":5,"w":4405,"m":1.838,"o":1.845},{"s":5,"w":4430,"m":1.835,"o":1.849},{"s":5,"w":4455,"m":1.828,"o":1.842},{"s":5,"w":4465,"m":1.803,"o":1.81},{"s":5,"w":4471,"m":1.769,"o":1.766},{"s":5,"w":4477,"m":1.801,"o":1.794},{"s":5,"w":4490,"m":1.82,"o":1.827},{"s":5,"w":4515,"m":1.814,"o":1.807},{"s":5,"w":4541,"m":1.806,"o":1.813},{"s":5,"w":4570,"m":1.803,"o":1.796},{"s":5,"w":4600,"m":1.8,"o":1.807},{"s":5,"w":4630,"m":1.796,"o":1.789},{"s":5,"w":4650,"m":1.778,"o":1.772},{"s":5,"w":4670,"m":1.786,"o":1.779},{"s":5,"w":4686,"m":1.778,"o":1.785},{"s":5,"w":4710,"m":1.768,"o":1.775},{"s":5,"w":4740,"m":1.765,"o":1.758},{"s":5,"w":4770,"m":1.757,"o":1.764},{"s":5,"w":4800,"m":1.749,"o":1.742},{"s":5,"w":4825,"m":1.739,"o":1.746},{"s":5,"w":4843,"m":1.723,"o":1.73},{"s":5,"w":4852,"m":1.689,"o":1.696},{"s":5,"w":4857,"m":1.648,"o":1.655},{"s":5,"w":4861,"m":1.583,"o":1.576},{"s":5,"w":4865,"m":1.641,"o":1.634},{"s":5,"w":4870,"m":1.683,"o":1.69},{"s":5,"w":4879,"m":1.71,"o":1.724},{"s":5,"w":4895,"m":1.72,"o":1.727},{"s":5,"w":4912,"m":1.718,"o":1.711},{"s":5,"w":4922,"m":1.673,"o":1.668},{"s":5,"w":4932,"m":1.715,"o":1.722},{"s":5,"w":4950,"m":1.712,"o":1.705},{"s":5,"w":4975,"m":1.706,"o":1.713},{"s":5,"w":5000,"m":1.7,"o":1.693},
{"s":6,"w":3600,"m":1.503,"o":1.507},{"s":6,"w":3615,"m":1.501,"o":1.499},{"s":6,"w":3630,"m":1.499,"o":1.501},{"s":6,"w":3645,"m":1.497,"o":1.493},{"s":6,"w":3660,"m":1.495,"o":1.497},{"s":6,"w":3675,"m":1.493,"o":1.493},{"s":6,"w":3690,"m":1.49,"o":1.486},{"s":6,"w":3700,"m":1.489,"o":1.491},{"s":6,"w":3708,"m":1.492,"o":1.49},{"s":6,"w":3714,"m":1.487,"o":1.485},{"s":6,"w":3720,"m":1.495,"o":1.497},{"s":6,"w":3726,"m":1.49,"o":1.488},{"s":6,"w":3732,"m":1.499,"o":1.501},{"s":6,"w":3738,"m":1.49,"o":1.488},{"s":6,"w":3744,"m":1.504,"o":1.506},{"s":6,"w":3750,"m":1.5,"o":1.499},{"s":6,"w":3756,"m":1.511,"o":1.512},{"s":6,"w":3762,"m":1.514,"o":1.515},{"s":6,"w":3771,"m":1.466,"o":1.464},{"s":6,"w":3778,"m":1.528,"o":1.528},{"s":6,"w":3786,"m":1.558,"o":1.559},{"s":6,"w":3792,"m":1.524,"o":1.523},{"s":6,"w":3798,"m":1.456,"o":1.454},{"s":6,"w":3804,"m":1.531,"o":1.532},{"s":6,"w":3810,"m":1.56,"o":1.56},{"s":6,"w":3819,"m":1.53,"o":1.529},{"s":6,"w":3826,"m":1.545,"o":1.546},{"s":6,"w":3835,"m":1.438,"o":1.435},{"s":6,"w":3843,"m":1.525,"o":1.526},{"s":6,"w":3855,"m":1.576,"o":1.577},{"s":6,"w":3868,"m":1.575,"o":1.574},{"s":6,"w":3878,"m":1.552,"o":1.553},{"s":6,"w":3884,"m":1.506,"o":1.505},{"s":6,"w":3889,"m":1.435,"o":1.432},{"s":6,"w":3894,"m":1.504,"o":1.505},{"s":6,"w":3902,"m":1.549,"o":1.548},{"s":6,"w":3915,"m":1.565,"o":1.566},{"s":6,"w":3933,"m":1.56,"o":1.553},{"s":6,"w":3950,"m":1.555,"o":1.556},{"s":6,"w":3960,"m":1.516,"o":1.515},{"s":6,"w":3965,"m":1.472,"o":1.473},{"s":6,"w":3970,"m":1.404,"o":1.4},{"s":6,"w":3975,"m":1.476,"o":1.475},{"s":6,"w":3982,"m":1.524,"o":1.525},{"s":6,"w":3995,"m":1.548,"o":1.549},{"s":6,"w":4009,"m":1.541,"o":1.54},{"s":6,"w":4018,"m":1.545,"o":1.546},{"s":6,"w":4026,"m":1.507,"o":1.505},{"s":6,"w":4034,"m":1.542,"o":1.543},{"s":6,"w":4050,"m":1.54,"o":1.539},{"s":6,"w":4070,"m":1.536,"o":1.537},{"s":6,"w":4085,"m":1.519,"o":1.518},{"s":6,"w":4093,"m":1.492,"o":1.493},{"s":6,"w":4098,"m":1.461,"o":1.46},{"s":6,"w":4102,"m":1.407,"o":1.403},{"s":6,"w":4107,"m":1.461,"o":1.462},{"s":6,"w":4113,"m":1.501,"o":1.5},{"s":6,"w":4125,"m":1.521,"o":1.522},{"s":6,"w":4144,"m":1.507,"o":1.505},{"s":6,"w":4160,"m":1.523,"o":1.524},{"s":6,"w":4185,"m":1.524,"o":1.523},{"s":6,"w":4210,"m":1.521,"o":1.522},{"s":6,"w":4240,"m":1.513,"o":1.512},{"s":6,"w":4270,"m":1.503,"o":1.504},{"s":6,"w":4300,"m":1.494,"o":1.493},{"s":6,"w":4318,"m":1.489,"o":1.49},{"s":6,"w":4328,"m":1.463,"o":1.462},{"s":6,"w":4335,"m":1.426,"o":1.427},{"s":6,"w":4340,"m":1.365,"o":1.361},{"s":6,"w":4345,"m":1.426,"o":1.425},{"s":6,"w":4352,"m":1.464,"o":1.465},{"s":6,"w":4365,"m":1.485,"o":1.484},{"s":6,"w":4387,"m":1.459,"o":1.457},{"s":6,"w":4405,"m":1.478,"o":1.476},{"s":6,"w":4430,"m":1.473,"o":1.467},{"s":6,"w":4455,"m":1.472,"o":1.466},{"s":6,"w":4465,"m":1.454,"o":1.452},{"s":6,"w":4471,"m":1.429,"o":1.426},{"s":6,"w":4477,"m":1.454,"o":1.455},{"s":6,"w":4490,"m":1.47,"o":1.465},{"s":6,"w":4515,"m":1.467,"o":1.462},{"s":6,"w":4541,"m":1.462,"o":1.461},{"s":6,"w":4570,"m":1.459,"o":1.46},{"s":6,"w":4600,"m":1.458,"o":1.457},{"s":6,"w":4630,"m":1.455,"o":1.456},{"s":6,"w":4650,"m":1.442,"o":1.44},{"s":6,"w":4670,"m":1.45,"o":1.451},{"s":6,"w":4686,"m":1.446,"o":1.445},{"s":6,"w":4710,"m":1.44,"o":1.438},{"s":6,"w":4740,"m":1.441,"o":1.442},{"s":6,"w":4770,"m":1.432,"o":1.431},{"s":6,"w":4800,"m":1.426,"o":1.427},{"s":6,"w":4825,"m":1.422,"o":1.421},{"s":6,"w":4843,"m":1.41,"o":1.407},{"s":6,"w":4852,"m":1.384,"o":1.38},{"s":6,"w":4857,"m":1.352,"o":1.349},{"s":6,"w":4861,"m":1.3,"o":1.296},{"s":6,"w":4865,"m":1.346,"o":1.343},{"s":6,"w":4870,"m":1.379,"o":1.369},{"s":6,"w":4879,"m":1.4,"o":1.388},{"s":6,"w":4895,"m":1.408,"o":1.405},{"s":6,"w":4912,"m":1.407,"o":1.408},{"s":6,"w":4922,"m":1.383,"o":1.381},{"s":6,"w":4932,"m":1.406,"o":1.405},{"s":6,"w":4950,"m":1.405,"o":1.406},{"s":6,"w":4975,"m":1.404,"o":1.403},{"s":6,"w":5000,"m":1.404,"o":1.405},
{"s":7,"w":3600,"m":1.2,"o":1.206},{"s":7,"w":3615,"m":1.197,"o":1.194},{"s":7,"w":3630,"m":1.194,"o":1.197},{"s":7,"w":3645,"m":1.191,"o":1.185},{"s":7,"w":3660,"m":1.188,"o":1.191},{"s":7,"w":3675,"m":1.186,"o":1.186},{"s":7,"w":3690,"m":1.183,"o":1.177},{"s":7,"w":3700,"m":1.181,"o":1.184},{"s":7,"w":3708,"m":1.184,"o":1.181},{"s":7,"w":3714,"m":1.179,"o":1.176},{"s":7,"w":3720,"m":1.189,"o":1.192},{"s":7,"w":3726,"m":1.183,"o":1.18},{"s":7,"w":3732,"m":1.193,"o":1.196},{"s":7,"w":3738,"m":1.184,"o":1.181},{"s":7,"w":3744,"m":1.199,"o":1.202},{"s":7,"w":3750,"m":1.157,"o":1.156},{"s":7,"w":3756,"m":1.195,"o":1.196},{"s":7,"w":3762,"m":1.211,"o":1.212},{"s":7,"w":3771,"m":1.15,"o":1.148},{"s":7,"w":3778,"m":1.21,"o":1.21},{"s":7,"w":3786,"m":1.239,"o":1.24},{"s":7,"w":3792,"m":1.205,"o":1.204},{"s":7,"w":3798,"m":1.135,"o":1.133},{"s":7,"w":3804,"m":1.21,"o":1.211},{"s":7,"w":3810,"m":1.239,"o":1.239},{"s":7,"w":3819,"m":1.21,"o":1.209},{"s":7,"w":3826,"m":1.225,"o":1.226},{"s":7,"w":3835,"m":1.128,"o":1.125},{"s":7,"w":3843,"m":1.194,"o":1.195},{"s":7,"w":3855,"m":1.232,"o":1.233},{"s":7,"w":3868,"m":1.23,"o":1.229},{"s":7,"w":3878,"m":1.211,"o":1.212},{"s":7,"w":3884,"m":1.17,"o":1.169},{"s":7,"w":3889,"m":1.107,"o":1.104},{"s":7,"w":3894,"m":1.166,"o":1.167},{"s":7,"w":3902,"m":1.204,"o":1.203},{"s":7,"w":3915,"m":1.217,"o":1.218},{"s":7,"w":3933,"m":1.212,"o":1.205},{"s":7,"w":3950,"m":1.207,"o":1.208},{"s":7,"w":3960,"m":1.174,"o":1.173},{"s":7,"w":3965,"m":1.137,"o":1.138},{"s":7,"w":3970,"m":1.08,"o":1.076},{"s":7,"w":3975,"m":1.142,"o":1.141},{"s":7,"w":3982,"m":1.183,"o":1.184},{"s":7,"w":3995,"m":1.204,"o":1.205},{"s":7,"w":4009,"m":1.192,"o":1.191},{"s":7,"w":4018,"m":1.194,"o":1.195},{"s":7,"w":4026,"m":1.142,"o":1.14},{"s":7,"w":4034,"m":1.187,"o":1.188},{"s":7,"w":4050,"m":1.18,"o":1.179},{"s":7,"w":4070,"m":1.174,"o":1.175},{"s":7,"w":4085,"m":1.16,"o":1.159},{"s":7,"w":4093,"m":1.137,"o":1.138},{"s":7,"w":4098,"m":1.11,"o":1.109},{"s":7,"w":4102,"m":1.062,"o":1.058},{"s":7,"w":4107,"m":1.109,"o":1.11},{"s":7,"w":4113,"m":1.144,"o":1.143},{"s":7,"w":4125,"m":1.163,"o":1.164},{"s":7,"w":4144,"m":1.15,"o":1.148},{"s":7,"w":4160,"m":1.16,"o":1.161},{"s":7,"w":4185,"m":1.158,"o":1.157},{"s":7,"w":4210,"m":1.152,"o":1.153},{"s":7,"w":4240,"m":1.138,"o":1.137},{"s":7,"w":4270,"m":1.126,"o":1.127},{"s":7,"w":4300,"m":1.119,"o":1.118},{"s":7,"w":4318,"m":1.115,"o":1.116},{"s":7,"w":4328,"m":1.093,"o":1.092},{"s":7,"w":4335,"m":1.061,"o":1.062},{"s":7,"w":4340,"m":1.007,"o":1.003},{"s":7,"w":4345,"m":1.061,"o":1.06},{"s":7,"w":4352,"m":1.096,"o":1.097},{"s":7,"w":4365,"m":1.113,"o":1.112},{"s":7,"w":4387,"m":1.08,"o":1.078},{"s":7,"w":4405,"m":1.101,"o":1.1},{"s":7,"w":4430,"m":1.094,"o":1.093},{"s":7,"w":4455,"m":1.092,"o":1.091},{"s":7,"w":4465,"m":1.07,"o":1.069},{"s":7,"w":4471,"m":1.039,"o":1.036},{"s":7,"w":4477,"m":1.069,"o":1.07},{"s":7,"w":4490,"m":1.088,"o":1.087},{"s":7,"w":4515,"m":1.085,"o":1.086},{"s":7,"w":4541,"m":1.081,"o":1.08},{"s":7,"w":4570,"m":1.079,"o":1.08},{"s":7,"w":4600,"m":1.078,"o":1.077},{"s":7,"w":4630,"m":1.075,"o":1.076},{"s":7,"w":4650,"m":1.045,"o":1.032},{"s":7,"w":4670,"m":1.066,"o":1.067},{"s":7,"w":4686,"m":1.058,"o":1.057},{"s":7,"w":4710,"m":1.042,"o":1.04},{"s":7,"w":4740,"m":1.046,"o":1.047},{"s":7,"w":4770,"m":1.044,"o":1.043},{"s":7,"w":4800,"m":1.039,"o":1.04},{"s":7,"w":4825,"m":1.034,"o":1.033},{"s":7,"w":4843,"m":1.021,"o":1.019},{"s":7,"w":4852,"m":0.994,"o":0.992},{"s":7,"w":4857,"m":0.964,"o":0.962},{"s":7,"w":4861,"m":0.915,"o":0.911},{"s":7,"w":4865,"m":0.958,"o":0.956},{"s":7,"w":4870,"m":0.989,"o":0.985},{"s":7,"w":4879,"m":1.006,"o":1.0},{"s":7,"w":4895,"m":1.011,"o":1.01},{"s":7,"w":4912,"m":1.01,"o":1.011},{"s":7,"w":4922,"m":0.977,"o":0.974},{"s":7,"w":4932,"m":1.009,"o":1.008},{"s":7,"w":4950,"m":1.008,"o":1.009},{"s":7,"w":4975,"m":1.006,"o":1.005},{"s":7,"w":5000,"m":1.004,"o":1.005},
{"s":8,"w":3600,"m":0.842,"o":0.836},{"s":8,"w":3615,"m":0.838,"o":0.844},{"s":8,"w":3630,"m":0.835,"o":0.823},{"s":8,"w":3645,"m":0.831,"o":0.837},{"s":8,"w":3660,"m":0.828,"o":0.828},{"s":8,"w":3675,"m":0.824,"o":0.812},{"s":8,"w":3690,"m":0.82,"o":0.826},{"s":8,"w":3700,"m":0.818,"o":0.812},{"s":8,"w":3708,"m":0.822,"o":0.816},{"s":8,"w":3714,"m":0.817,"o":0.823},{"s":8,"w":3720,"m":0.827,"o":0.821},{"s":8,"w":3726,"m":0.821,"o":0.827},{"s":8,"w":3732,"m":0.832,"o":0.826},{"s":8,"w":3738,"m":0.823,"o":0.829},{"s":8,"w":3744,"m":0.839,"o":0.833},{"s":8,"w":3750,"m":0.77,"o":0.776},{"s":8,"w":3756,"m":0.828,"o":0.834},{"s":8,"w":3762,"m":0.853,"o":0.847},{"s":8,"w":3771,"m":0.77,"o":0.77},{"s":8,"w":3778,"m":0.844,"o":0.85},{"s":8,"w":3786,"m":0.88,"o":0.874},{"s":8,"w":3792,"m":0.834,"o":0.828},{"s":8,"w":3798,"m":0.74,"o":0.736},{"s":8,"w":3804,"m":0.841,"o":0.841},{"s":8,"w":3810,"m":0.88,"o":0.874},{"s":8,"w":3819,"m":0.85,"o":0.856},{"s":8,"w":3826,"m":0.866,"o":0.86},{"s":8,"w":3835,"m":0.75,"o":0.746},{"s":8,"w":3843,"m":0.83,"o":0.836},{"s":8,"w":3855,"m":0.877,"o":0.871},{"s":8,"w":3868,"m":0.875,"o":0.881},{"s":8,"w":3878,"m":0.852,"o":0.846},{"s":8,"w":3884,"m":0.803,"o":0.797},{"s":8,"w":3889,"m":0.729,"o":0.723},{"s":8,"w":3894,"m":0.802,"o":0.796},{"s":8,"w":3902,"m":0.848,"o":0.854},{"s":8,"w":3915,"m":0.864,"o":0.852},{"s":8,"w":3933,"m":0.859,"o":0.85},{"s":8,"w":3950,"m":0.853,"o":0.847},{"s":8,"w":3960,"m":0.811,"o":0.817},{"s":8,"w":3965,"m":0.763,"o":0.757},{"s":8,"w":3970,"m":0.69,"o":0.684},{"s":8,"w":3975,"m":0.768,"o":0.774},{"s":8,"w":3982,"m":0.819,"o":0.825},{"s":8,"w":3995,"m":0.845,"o":0.839},{"s":8,"w":4009,"m":0.83,"o":0.836},{"s":8,"w":4018,"m":0.833,"o":0.827},{"s":8,"w":4026,"m":0.784,"o":0.78},{"s":8,"w":4034,"m":0.822,"o":0.816},{"s":8,"w":4050,"m":0.811,"o":0.817},{"s":8,"w":4070,"m":0.804,"o":0.798},{"s":8,"w":4085,"m":0.79,"o":0.796},{"s":8,"w":4093,"m":0.764,"o":0.758},{"s":8,"w":4098,"m":0.732,"o":0.726},{"s":8,"w":4102,"m":0.676,"o":0.67},{"s":8,"w":4107,"m":0.732,"o":0.726},{"s":8,"w":4113,"m":0.774,"o":0.78},{"s":8,"w":4125,"m":0.798,"o":0.792},{"s":8,"w":4144,"m":0.763,"o":0.76},{"s":8,"w":4160,"m":0.795,"o":0.789},{"s":8,"w":4185,"m":0.792,"o":0.798},{"s":8,"w":4210,"m":0.788,"o":0.782},{"s":8,"w":4240,"m":0.777,"o":0.783},{"s":8,"w":4270,"m":0.767,"o":0.761},{"s":8,"w":4300,"m":0.757,"o":0.763},{"s":8,"w":4318,"m":0.75,"o":0.744},{"s":8,"w":4328,"m":0.719,"o":0.725},{"s":8,"w":4335,"m":0.676,"o":0.67},{"s":8,"w":4340,"m":0.607,"o":0.601},{"s":8,"w":4345,"m":0.675,"o":0.681},{"s":8,"w":4352,"m":0.717,"o":0.711},{"s":8,"w":4365,"m":0.735,"o":0.729},{"s":8,"w":4387,"m":0.713,"o":0.707},{"s":8,"w":4405,"m":0.729,"o":0.717},{"s":8,"w":4430,"m":0.726,"o":0.714},{"s":8,"w":4455,"m":0.722,"o":0.716},{"s":8,"w":4465,"m":0.701,"o":0.695},{"s":8,"w":4471,"m":0.673,"o":0.667},{"s":8,"w":4477,"m":0.7,"o":0.694},{"s":8,"w":4490,"m":0.716,"o":0.722},{"s":8,"w":4515,"m":0.711,"o":0.705},{"s":8,"w":4541,"m":0.703,"o":0.709},{"s":8,"w":4570,"m":0.701,"o":0.695},{"s":8,"w":4600,"m":0.7,"o":0.706},{"s":8,"w":4630,"m":0.697,"o":0.691},{"s":8,"w":4650,"m":0.68,"o":0.672},{"s":8,"w":4670,"m":0.69,"o":0.684},{"s":8,"w":4686,"m":0.684,"o":0.678},{"s":8,"w":4710,"m":0.672,"o":0.666},{"s":8,"w":4740,"m":0.674,"o":0.668},{"s":8,"w":4770,"m":0.666,"o":0.672},{"s":8,"w":4800,"m":0.654,"o":0.648},{"s":8,"w":4825,"m":0.643,"o":0.637},{"s":8,"w":4843,"m":0.627,"o":0.621},{"s":8,"w":4852,"m":0.597,"o":0.591},{"s":8,"w":4857,"m":0.56,"o":0.554},{"s":8,"w":4861,"m":0.501,"o":0.495},{"s":8,"w":4865,"m":0.553,"o":0.547},{"s":8,"w":4870,"m":0.592,"o":0.58},{"s":8,"w":4879,"m":0.615,"o":0.609},{"s":8,"w":4895,"m":0.624,"o":0.63},{"s":8,"w":4912,"m":0.621,"o":0.615},{"s":8,"w":4922,"m":0.577,"o":0.571},{"s":8,"w":4932,"m":0.618,"o":0.624},{"s":8,"w":4950,"m":0.615,"o":0.609},{"s":8,"w":4975,"m":0.608,"o":0.614},{"s":8,"w":5000,"m":0.602,"o":0.606},
{"s":9,"w":3600,"m":0.42,"o":0.426},{"s":9,"w":3615,"m":0.418,"o":0.415},{"s":9,"w":3630,"m":0.416,"o":0.419},{"s":9,"w":3645,"m":0.413,"o":0.407},{"s":9,"w":3660,"m":0.411,"o":0.414},{"s":9,"w":3675,"m":0.409,"o":0.409},{"s":9,"w":3690,"m":0.407,"o":0.401},{"s":9,"w":3700,"m":0.405,"o":0.408},{"s":9,"w":3708,"m":0.409,"o":0.406},{"s":9,"w":3714,"m":0.404,"o":0.401},{"s":9,"w":3720,"m":0.414,"o":0.417},{"s":9,"w":3726,"m":0.408,"o":0.405},{"s":9,"w":3732,"m":0.419,"o":0.422},{"s":9,"w":3738,"m":0.41,"o":0.407},{"s":9,"w":3744,"m":0.426,"o":0.429},{"s":9,"w":3750,"m":0.391,"o":0.39},{"s":9,"w":3756,"m":0.425,"o":0.426},{"s":9,"w":3762,"m":0.44,"o":0.441},{"s":9,"w":3771,"m":0.377,"o":0.375},{"s":9,"w":3778,"m":0.446,"o":0.446},{"s":9,"w":3786,"m":0.48,"o":0.481},{"s":9,"w":3792,"m":0.437,"o":0.436},{"s":9,"w":3798,"m":0.35,"o":0.348},{"s":9,"w":3804,"m":0.444,"o":0.445},{"s":9,"w":3810,"m":0.48,"o":0.48},{"s":9,"w":3819,"m":0.46,"o":0.459},{"s":9,"w":3826,"m":0.467,"o":0.468},{"s":9,"w":3835,"m":0.336,"o":0.333},{"s":9,"w":3843,"m":0.431,"o":0.432},{"s":9,"w":3855,"m":0.487,"o":0.488},{"s":9,"w":3868,"m":0.485,"o":0.484},{"s":9,"w":3878,"m":0.459,"o":0.46},{"s":9,"w":3884,"m":0.405,"o":0.404},{"s":9,"w":3889,"m":0.322,"o":0.319},{"s":9,"w":3894,"m":0.399,"o":0.4},{"s":9,"w":3902,"m":0.448,"o":0.447},{"s":9,"w":3915,"m":0.466,"o":0.467},{"s":9,"w":3933,"m":0.463,"o":0.456},{"s":9,"w":3950,"m":0.46,"o":0.461},{"s":9,"w":3960,"m":0.417,"o":0.416},{"s":9,"w":3965,"m":0.369,"o":0.37},{"s":9,"w":3970,"m":0.295,"o":0.291},{"s":9,"w":3975,"m":0.374,"o":0.373},{"s":9,"w":3982,"m":0.426,"o":0.427},{"s":9,"w":3995,"m":0.452,"o":0.453},{"s":9,"w":4009,"m":0.437,"o":0.436},{"s":9,"w":4018,"m":0.446,"o":0.447},{"s":9,"w":4026,"m":0.391,"o":0.389},{"s":9,"w":4034,"m":0.442,"o":0.443},{"s":9,"w":4050,"m":0.438,"o":0.437},{"s":9,"w":4070,"m":0.433,"o":0.434},{"s":9,"w":4085,"m":0.414,"o":0.413},{"s":9,"w":4093,"m":0.383,"o":0.384},{"s":9,"w":4098,"m":0.346,"o":0.345},{"s":9,"w":4102,"m":0.281,"o":0.277},{"s":9,"w":4107,"m":0.345,"o":0.346},{"s":9,"w":4113,"m":0.394,"o":0.393},{"s":9,"w":4125,"m":0.419,"o":0.42},{"s":9,"w":4144,"m":0.391,"o":0.389},{"s":9,"w":4160,"m":0.419,"o":0.42},{"s":9,"w":4185,"m":0.419,"o":0.418},{"s":9,"w":4210,"m":0.416,"o":0.417},{"s":9,"w":4240,"m":0.405,"o":0.404},{"s":9,"w":4270,"m":0.394,"o":0.395},{"s":9,"w":4300,"m":0.384,"o":0.383},{"s":9,"w":4318,"m":0.378,"o":0.379},{"s":9,"w":4328,"m":0.347,"o":0.346},{"s":9,"w":4335,"m":0.301,"o":0.302},{"s":9,"w":4340,"m":0.226,"o":0.222},{"s":9,"w":4345,"m":0.301,"o":0.3},{"s":9,"w":4352,"m":0.347,"o":0.348},{"s":9,"w":4365,"m":0.372,"o":0.371},{"s":9,"w":4387,"m":0.336,"o":0.334},{"s":9,"w":4405,"m":0.366,"o":0.364},{"s":9,"w":4430,"m":0.362,"o":0.355},{"s":9,"w":4455,"m":0.36,"o":0.353},{"s":9,"w":4465,"m":0.336,"o":0.334},{"s":9,"w":4471,"m":0.302,"o":0.299},{"s":9,"w":4477,"m":0.335,"o":0.336},{"s":9,"w":4490,"m":0.356,"o":0.35},{"s":9,"w":4515,"m":0.352,"o":0.349},{"s":9,"w":4541,"m":0.347,"o":0.346},{"s":9,"w":4570,"m":0.344,"o":0.345},{"s":9,"w":4600,"m":0.342,"o":0.341},{"s":9,"w":4630,"m":0.339,"o":0.34},{"s":9,"w":4650,"m":0.322,"o":0.32},{"s":9,"w":4670,"m":0.333,"o":0.334},{"s":9,"w":4686,"m":0.329,"o":0.328},{"s":9,"w":4710,"m":0.32,"o":0.318},{"s":9,"w":4740,"m":0.322,"o":0.323},{"s":9,"w":4770,"m":0.317,"o":0.316},{"s":9,"w":4800,"m":0.311,"o":0.312},{"s":9,"w":4825,"m":0.304,"o":0.303},{"s":9,"w":4843,"m":0.29,"o":0.288},{"s":9,"w":4852,"m":0.258,"o":0.254},{"s":9,"w":4857,"m":0.22,"o":0.216},{"s":9,"w":4861,"m":0.157,"o":0.151},{"s":9,"w":4865,"m":0.212,"o":0.208},{"s":9,"w":4870,"m":0.252,"o":0.245},{"s":9,"w":4879,"m":0.277,"o":0.27},{"s":9,"w":4895,"m":0.285,"o":0.284},{"s":9,"w":4912,"m":0.283,"o":0.284},{"s":9,"w":4922,"m":0.246,"o":0.243},{"s":9,"w":4932,"m":0.281,"o":0.28},{"s":9,"w":4950,"m":0.28,"o":0.281},{"s":9,"w":4975,"m":0.277,"o":0.276},{"s":9,"w":5000,"m":0.274,"o":0.275}
]},
"layer":[
{"data":{"name":"spec"},
 "mark":{"type":"line","color":"#2323e6","strokeWidth":1.3,"clip":true},
 "encoding":{
  "x":{"field":"w","type":"quantitative","scale":{"domain":[3600,5000],"nice":false,"zero":false},
   "axis":{"orient":"bottom","values":[3600,3800,4000,4200,4400,4600,4800,5000],"format":"d","ticks":false,"domain":false,"grid":false,"labelFlush":false,"labelOverlap":false,"labelFont":"DejaVu Serif","labelFontSize":17,"labelColor":"#000000","labelPadding":11,"title":"Wavelength (Å)","titleFont":"DejaVu Serif","titleFontSize":17,"titleFontWeight":"normal","titleColor":"#000000","titlePadding":6}},
  "y":{"field":"m","type":"quantitative","scale":{"domain":[0,4],"nice":false,"zero":false},
   "axis":{"orient":"left","values":[0,1,2,3,4],"format":"d","ticks":false,"domain":false,"grid":false,"labelFlush":true,"labelFont":"DejaVu Serif","labelFontSize":17,"labelColor":"#000000","labelPadding":6,"title":"log Flux + offset","titleFont":"DejaVu Serif","titleFontSize":17,"titleFontWeight":"normal","titleColor":"#000000","titlePadding":13}},
  "detail":{"field":"s","type":"nominal"}}},
{"data":{"name":"spec"},
 "mark":{"type":"line","color":"#000000","strokeWidth":1.1,"strokeDash":[1.5,1.2],"opacity":0.95,"clip":true},
 "encoding":{
  "x":{"field":"w","type":"quantitative","scale":{"domain":[3600,5000],"nice":false,"zero":false},
   "axis":{"orient":"bottom","values":[3800,4000,4200,4400,4600,4800],"labels":false,"domain":false,"grid":false,"title":null,"tickSize":-19,"tickColor":"#000000","tickWidth":1,"zindex":1}},
  "y":{"field":"o","type":"quantitative","scale":{"domain":[0,4],"nice":false,"zero":false},
   "axis":{"orient":"left","values":[1,2,3],"labels":false,"domain":false,"grid":false,"title":null,"tickSize":-14,"tickColor":"#000000","tickWidth":1,"zindex":1}},
  "detail":{"field":"s","type":"nominal"}}},
{"data":{"name":"spec"},
 "mark":{"type":"point","filled":true,"size":5,"color":"#000000","opacity":1,"clip":true},
 "encoding":{
  "x":{"field":"w","type":"quantitative","scale":{"domain":[3600,5000],"nice":false,"zero":false},
   "axis":{"orient":"bottom","values":[3650,3700,3750,3850,3900,3950,4050,4100,4150,4250,4300,4350,4450,4500,4550,4650,4700,4750,4850,4900,4950],"labels":false,"domain":false,"grid":false,"title":null,"tickSize":-10,"tickColor":"#000000","tickWidth":1,"zindex":1}},
  "y":{"field":"o","type":"quantitative","scale":{"domain":[0,4],"nice":false,"zero":false},
   "axis":{"orient":"left","values":[0.1,0.2,0.3,0.4,0.5,0.6,0.7,0.8,0.9,1.1,1.2,1.3,1.4,1.5,1.6,1.7,1.8,1.9,2.1,2.2,2.3,2.4,2.5,2.6,2.7,2.8,2.9,3.1,3.2,3.3,3.4,3.5,3.6,3.7,3.8,3.9],"labels":false,"domain":false,"grid":false,"title":null,"tickSize":-7,"tickColor":"#000000","tickWidth":1,"zindex":1}}}},
{"data":{"name":"labels"},
 "mark":{"type":"text","font":"DejaVu Serif","fontSize":15,"angle":4,"color":"#000000","align":"center","baseline":"middle"},
 "encoding":{
  "x":{"field":"w","type":"quantitative","scale":{"domain":[3600,5000],"nice":false,"zero":false},
   "axis":{"orient":"top","values":[3800,4000,4200,4400,4600,4800],"labels":false,"domain":false,"grid":false,"title":null,"tickSize":-19,"tickColor":"#000000","tickWidth":1,"zindex":1}},
  "y":{"field":"y","type":"quantitative","scale":{"domain":[0,4],"nice":false,"zero":false},
   "axis":{"orient":"right","values":[1,2,3],"labels":false,"domain":false,"grid":false,"title":null,"tickSize":-14,"tickColor":"#000000","tickWidth":1,"zindex":1}},
  "text":{"field":"name","type":"nominal"}}},
{"data":{"name":"labels"},
 "mark":{"type":"point","opacity":0},
 "encoding":{
  "x":{"field":"w","type":"quantitative","scale":{"domain":[3600,5000],"nice":false,"zero":false},
   "axis":{"orient":"top","values":[3650,3700,3750,3850,3900,3950,4050,4100,4150,4250,4300,4350,4450,4500,4550,4650,4700,4750,4850,4900,4950],"labels":false,"domain":false,"grid":false,"title":null,"tickSize":-10,"tickColor":"#000000","tickWidth":1,"zindex":1}},
  "y":{"field":"y","type":"quantitative","scale":{"domain":[0,4],"nice":false,"zero":false},
   "axis":{"orient":"right","values":[0.1,0.2,0.3,0.4,0.5,0.6,0.7,0.8,0.9,1.1,1.2,1.3,1.4,1.5,1.6,1.7,1.8,1.9,2.1,2.2,2.3,2.4,2.5,2.6,2.7,2.8,2.9,3.1,3.2,3.3,3.4,3.5,3.6,3.7,3.8,3.9],"labels":false,"domain":false,"grid":false,"title":null,"tickSize":-7,"tickColor":"#000000","tickWidth":1,"zindex":1}}}}
],
"resolve":{"axis":{"x":"independent","y":"independent"}}
}
